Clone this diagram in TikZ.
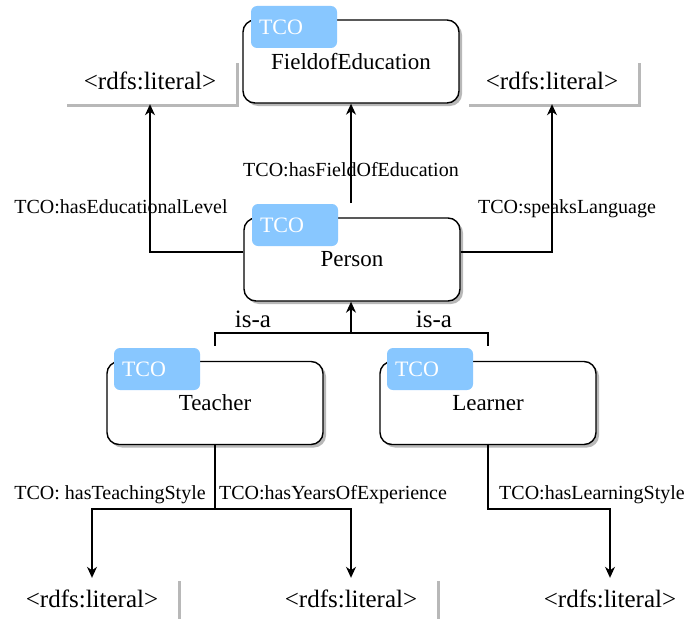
\documentclass[tikz,border=0pt]{standalone}
\usepackage{fontspec}
\setmainfont{Liberation Serif}
\usetikzlibrary{arrows.meta,shadows}
\definecolor{tcoblue}{RGB}{136,199,255}
\tikzset{
  shd/.style={drop shadow={shadow xshift=3pt, shadow yshift=-3pt, fill=black!28, opacity=1}},
  classbox/.style={draw=black, line width=1.4pt, rounded corners=12pt, fill=white,
    minimum width=216pt, minimum height=83pt, inner sep=0pt, shd,
    font=\fontsize{23}{27}\selectfont},
  tagbox/.style={fill=tcoblue, rounded corners=6pt, minimum width=86pt,
    minimum height=42pt, inner sep=0pt},
  tagtext/.style={text=white, font=\fontsize{22}{26}\selectfont, anchor=west, inner sep=0pt},
  litbox/.style={fill=white, minimum width=172pt, minimum height=44pt, inner sep=0pt,
    text height=17pt, text depth=3pt, shd, font=\fontsize{25}{30}\selectfont},
  lbl/.style={font=\fontsize{20}{24}\selectfont, inner sep=0pt, anchor=base},
  isalbl/.style={font=\fontsize{25}{30}\selectfont, inner sep=0pt, anchor=base},
  arr/.style={line width=1.3pt, -{Stealth[length=11pt,width=10pt,inset=3.5pt]}},
  ln/.style={line width=1.3pt}
}
\begin{document}
\begin{tikzpicture}[x=1pt,y=-1pt]
\clip (0,0) rectangle (687,618);
\fill[white] (0,0) rectangle (687,618);

% literal boxes
\node[litbox] (litTL) at (150,82) {<rdfs:literal>};
\node[litbox] (litTR) at (552,82) {<rdfs:literal>};
\node[litbox] (litBL) at (92,600) {<rdfs:literal>};
\node[litbox] (litBM) at (351,600) {<rdfs:literal>};
\node[litbox] (litBR) at (610,600) {<rdfs:literal>};

% class boxes
\node[classbox] (field) at (351,61.5) {FieldofEducation};
\node[tagbox] (fieldtag) at (294,27) {};
\node[tagtext] (fieldtco) at ([xshift=8pt]fieldtag.west) {TCO};

\node[classbox] (person) at (352,259.5) {Person};
\node[tagbox] (persontag) at (295,225) {};
\node[tagtext] (persontco) at ([xshift=8pt]persontag.west) {TCO};

\node[classbox] (teacher) at (215,403) {Teacher};
\node[tagbox] (teachertag) at (157,369) {};
\node[tagtext] (teachertco) at ([xshift=8pt]teachertag.west) {TCO};

\node[classbox] (learner) at (488,403) {Learner};
\node[tagbox] (learnertag) at (430,369) {};
\node[tagtext] (learnertco) at ([xshift=8pt]learnertag.west) {TCO};

% connectors from Person
\draw[arr] ([yshift=7.5pt]person.west) -| (litTL.south);
\coordinate (fieldsrc) at (351,203);
\draw[arr] (fieldsrc) -- (field.south);
\draw[arr] ([yshift=7.5pt]person.east) -| (litTR.south);

% is-a
\coordinate (isa) at (351,333);
\draw[ln] ([yshift=15pt]teacher.north) |- (isa) -| ([yshift=15pt]learner.north);
\draw[arr] (isa) -- (isa |- person.south);

% teacher properties
\coordinate (tj) at (215,509);
\draw[ln] (teacher.south) -- (tj);
\draw[arr] (tj) -| (litBL.north);
\draw[arr] (tj) -| (litBM.north);

% learner property
\coordinate (lj) at (488,509);
\draw[arr] (learner.south) -- (lj) -| (litBR.north);

% labels
\node[lbl] (l1) at (121,213) {TCO:hasEducationalLevel};
\node[lbl] (l2) at (351,176) {TCO:hasFieldOfEducation};
\node[lbl] (l3) at (567,213) {TCO:speaksLanguage};
\node[lbl] (l4) at (110,499.5) {TCO: hasTeachingStyle};
\node[lbl] (l5) at (333,499.5) {TCO:hasYearsOfExperience};
\node[lbl] (l6) at (592,499) {TCO:hasLearningStyle};
\node[isalbl] (isa1) at (253,327) {is-a};
\node[isalbl] (isa2) at (434,327) {is-a};
\end{tikzpicture}
\end{document}
